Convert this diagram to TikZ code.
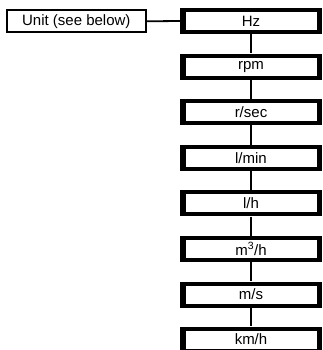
\documentclass[tikz,border=0pt]{standalone}
\usepackage{fontspec}
\setmainfont{Liberation Sans}
\begin{document}
\begin{tikzpicture}[x=1pt,y=-1pt,
  unitbox/.style={draw=black,line width=1.8pt,minimum width=138.8pt,minimum height=22.2pt,inner sep=0pt,font=\fontsize{15}{17}\selectfont},
  valbox/.style={fill=black,minimum width=142pt,minimum height=26pt,inner sep=0pt,font=\fontsize{15}{17}\selectfont,
    path picture={\fill[white] ([shift={(5.5pt,4pt)}]path picture bounding box.south west) rectangle ([shift={(-5.5pt,-4pt)}]path picture bounding box.north east);}},
  conn/.style={line width=1.8pt}]
\useasboundingbox (0,0) rectangle (323,350);
\node[unitbox] (unit) at (76.3,21.3) {Unit (see below)};
\node[valbox] (hz) at (251,21) {Hz};
\node[valbox] (rpm) at (251,66.6) {rpm};
\node[valbox] (rsec) at (251,112.2) {r/sec};
\node[valbox] (lmin) at (251,157.8) {l/min};
\node[valbox] (lh) at (251,203.4) {l/h};
\node[valbox] (m3h) at (251,249) {m\textsuperscript{3}/h};
\node[valbox] (ms) at (251,294.6) {m/s};
\node[valbox] (kmh) at (251,339.5) {km/h};
\draw[conn] (unit.east) -- (hz.west);
\foreach \a/\b in {hz/rpm,rpm/rsec,rsec/lmin,lmin/lh,lh/m3h,m3h/ms,ms/kmh}
  \draw[conn] (\a.south) -- (\b.north);
\end{tikzpicture}
\end{document}
